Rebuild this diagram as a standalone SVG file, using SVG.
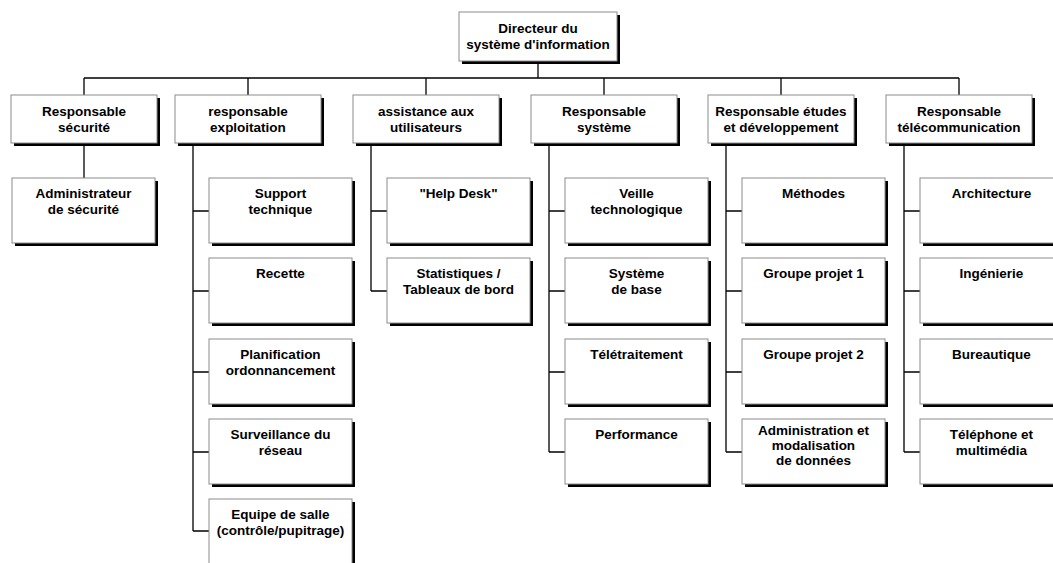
<svg xmlns="http://www.w3.org/2000/svg" width="1053" height="563" viewBox="0 0 1053 563">
  <style>
    .shadow { fill: #000; }
    .box { fill: #fff; stroke: #8c8c8c; stroke-width: 1; }
    .lbl { font-family: "Liberation Sans", Arial, sans-serif; font-weight: bold; font-size: 13.5px; fill: #000; text-anchor: middle; }
    .conn { fill: none; stroke: #000; stroke-width: 1.3; }
  </style>
  <rect width="1053" height="563" fill="#fff"/>

  <!-- connectors -->
  <g id="connectors" class="conn">
    <path d="M538 61 V78 M84 78 H959 M84 78 V95 M248 78 V95 M426 78 V95 M604 78 V95 M781 78 V95 M959 78 V95"/>
    <path d="M84 143 V178"/>
    <path d="M193 143 V531 M193 211 H209 M193 291 H209 M193 372 H209 M193 452 H209 M193 531 H209"/>
    <path d="M371 143 V291 M371 211 H387 M371 291 H387"/>
    <path d="M549 143 V452 M549 211 H565 M549 291 H565 M549 372 H565 M549 452 H565"/>
    <path d="M726 143 V452 M726 211 H742 M726 291 H742 M726 372 H742 M726 452 H742"/>
    <path d="M904 143 V452 M904 211 H920 M904 291 H920 M904 372 H920 M904 452 H920"/>
  </g>

  <!-- top -->
  <g id="n-directeur">
    <rect class="shadow" x="462" y="15" width="158" height="49"/>
    <rect class="box" x="459" y="12" width="158" height="49"/>
    <text class="lbl" x="538" y="33">Directeur du</text>
    <text class="lbl" x="538" y="49">système d'information</text>
  </g>

  <!-- managers -->
  <g id="n-securite">
    <rect class="shadow" x="14" y="98" width="146" height="48"/>
    <rect class="box" x="11" y="95" width="146" height="48"/>
    <text class="lbl" x="84" y="116">Responsable</text>
    <text class="lbl" x="84" y="132">sécurité</text>
  </g>
  <g id="n-exploitation">
    <rect class="shadow" x="178" y="98" width="146" height="48"/>
    <rect class="box" x="175" y="95" width="146" height="48"/>
    <text class="lbl" x="248" y="116">responsable</text>
    <text class="lbl" x="248" y="132">exploitation</text>
  </g>
  <g id="n-assistance">
    <rect class="shadow" x="356" y="98" width="146" height="48"/>
    <rect class="box" x="353" y="95" width="146" height="48"/>
    <text class="lbl" x="426" y="116">assistance aux</text>
    <text class="lbl" x="426" y="132">utilisateurs</text>
  </g>
  <g id="n-systeme">
    <rect class="shadow" x="534" y="98" width="146" height="48"/>
    <rect class="box" x="531" y="95" width="146" height="48"/>
    <text class="lbl" x="604" y="116">Responsable</text>
    <text class="lbl" x="604" y="132">système</text>
  </g>
  <g id="n-etudes">
    <rect class="shadow" x="711" y="98" width="146" height="48"/>
    <rect class="box" x="708" y="95" width="146" height="48"/>
    <text class="lbl" x="781" y="116">Responsable études</text>
    <text class="lbl" x="781" y="132">et développement</text>
  </g>
  <g id="n-telecom">
    <rect class="shadow" x="889" y="98" width="146" height="48"/>
    <rect class="box" x="886" y="95" width="146" height="48"/>
    <text class="lbl" x="959" y="116">Responsable</text>
    <text class="lbl" x="959" y="132">télécommunication</text>
  </g>

  <!-- sécurité -->
  <g id="n-admin-securite">
    <rect class="shadow" x="15" y="181" width="143" height="65"/>
    <rect class="box" x="12" y="178" width="143" height="65"/>
    <text class="lbl" x="83.5" y="198">Administrateur</text>
    <text class="lbl" x="83.5" y="214">de sécurité</text>
  </g>

  <!-- exploitation -->
  <g id="n-support">
    <rect class="shadow" x="212" y="181" width="143" height="65"/>
    <rect class="box" x="209" y="178" width="143" height="65"/>
    <text class="lbl" x="280.5" y="198">Support</text>
    <text class="lbl" x="280.5" y="214">technique</text>
  </g>
  <g id="n-recette">
    <rect class="shadow" x="212" y="261" width="143" height="65"/>
    <rect class="box" x="209" y="258" width="143" height="65"/>
    <text class="lbl" x="280.5" y="278">Recette</text>
  </g>
  <g id="n-planification">
    <rect class="shadow" x="212" y="342" width="143" height="65"/>
    <rect class="box" x="209" y="339" width="143" height="65"/>
    <text class="lbl" x="280.5" y="359">Planification</text>
    <text class="lbl" x="280.5" y="375">ordonnancement</text>
  </g>
  <g id="n-surveillance">
    <rect class="shadow" x="212" y="422" width="143" height="65"/>
    <rect class="box" x="209" y="419" width="143" height="65"/>
    <text class="lbl" x="280.5" y="439">Surveillance du</text>
    <text class="lbl" x="280.5" y="455">réseau</text>
  </g>
  <g id="n-equipe">
    <rect class="shadow" x="212" y="502" width="143" height="65"/>
    <rect class="box" x="209" y="499" width="143" height="65"/>
    <text class="lbl" x="280.5" y="519">Equipe de salle</text>
    <text class="lbl" x="280.5" y="535">(contrôle/pupitrage)</text>
  </g>

  <!-- assistance -->
  <g id="n-helpdesk">
    <rect class="shadow" x="390" y="181" width="143" height="65"/>
    <rect class="box" x="387" y="178" width="143" height="65"/>
    <text class="lbl" x="458.5" y="198">"Help Desk"</text>
  </g>
  <g id="n-statistiques">
    <rect class="shadow" x="390" y="261" width="143" height="65"/>
    <rect class="box" x="387" y="258" width="143" height="65"/>
    <text class="lbl" x="458.5" y="278">Statistiques /</text>
    <text class="lbl" x="458.5" y="294">Tableaux de bord</text>
  </g>

  <!-- système -->
  <g id="n-veille">
    <rect class="shadow" x="568" y="181" width="143" height="65"/>
    <rect class="box" x="565" y="178" width="143" height="65"/>
    <text class="lbl" x="636.5" y="198">Veille</text>
    <text class="lbl" x="636.5" y="214">technologique</text>
  </g>
  <g id="n-systeme-base">
    <rect class="shadow" x="568" y="261" width="143" height="65"/>
    <rect class="box" x="565" y="258" width="143" height="65"/>
    <text class="lbl" x="636.5" y="278">Système</text>
    <text class="lbl" x="636.5" y="294">de base</text>
  </g>
  <g id="n-teletraitement">
    <rect class="shadow" x="568" y="342" width="143" height="65"/>
    <rect class="box" x="565" y="339" width="143" height="65"/>
    <text class="lbl" x="636.5" y="359">Télétraitement</text>
  </g>
  <g id="n-performance">
    <rect class="shadow" x="568" y="422" width="143" height="65"/>
    <rect class="box" x="565" y="419" width="143" height="65"/>
    <text class="lbl" x="636.5" y="439">Performance</text>
  </g>

  <!-- études -->
  <g id="n-methodes">
    <rect class="shadow" x="745" y="181" width="143" height="65"/>
    <rect class="box" x="742" y="178" width="143" height="65"/>
    <text class="lbl" x="813.5" y="198">Méthodes</text>
  </g>
  <g id="n-groupe1">
    <rect class="shadow" x="745" y="261" width="143" height="65"/>
    <rect class="box" x="742" y="258" width="143" height="65"/>
    <text class="lbl" x="813.5" y="278">Groupe projet 1</text>
  </g>
  <g id="n-groupe2">
    <rect class="shadow" x="745" y="342" width="143" height="65"/>
    <rect class="box" x="742" y="339" width="143" height="65"/>
    <text class="lbl" x="813.5" y="359">Groupe projet 2</text>
  </g>
  <g id="n-admin-donnees">
    <rect class="shadow" x="745" y="422" width="143" height="65"/>
    <rect class="box" x="742" y="419" width="143" height="65"/>
    <text class="lbl" x="813.5" y="435">Administration et</text>
    <text class="lbl" x="813.5" y="450">modalisation</text>
    <text class="lbl" x="813.5" y="465">de données</text>
  </g>

  <!-- télécommunication -->
  <g id="n-architecture">
    <rect class="shadow" x="923" y="181" width="143" height="65"/>
    <rect class="box" x="920" y="178" width="143" height="65"/>
    <text class="lbl" x="991.5" y="198">Architecture</text>
  </g>
  <g id="n-ingenierie">
    <rect class="shadow" x="923" y="261" width="143" height="65"/>
    <rect class="box" x="920" y="258" width="143" height="65"/>
    <text class="lbl" x="991.5" y="278">Ingénierie</text>
  </g>
  <g id="n-bureautique">
    <rect class="shadow" x="923" y="342" width="143" height="65"/>
    <rect class="box" x="920" y="339" width="143" height="65"/>
    <text class="lbl" x="991.5" y="359">Bureautique</text>
  </g>
  <g id="n-telephone">
    <rect class="shadow" x="923" y="422" width="143" height="65"/>
    <rect class="box" x="920" y="419" width="143" height="65"/>
    <text class="lbl" x="991.5" y="439">Téléphone et</text>
    <text class="lbl" x="991.5" y="455">multimédia</text>
  </g>
</svg>
